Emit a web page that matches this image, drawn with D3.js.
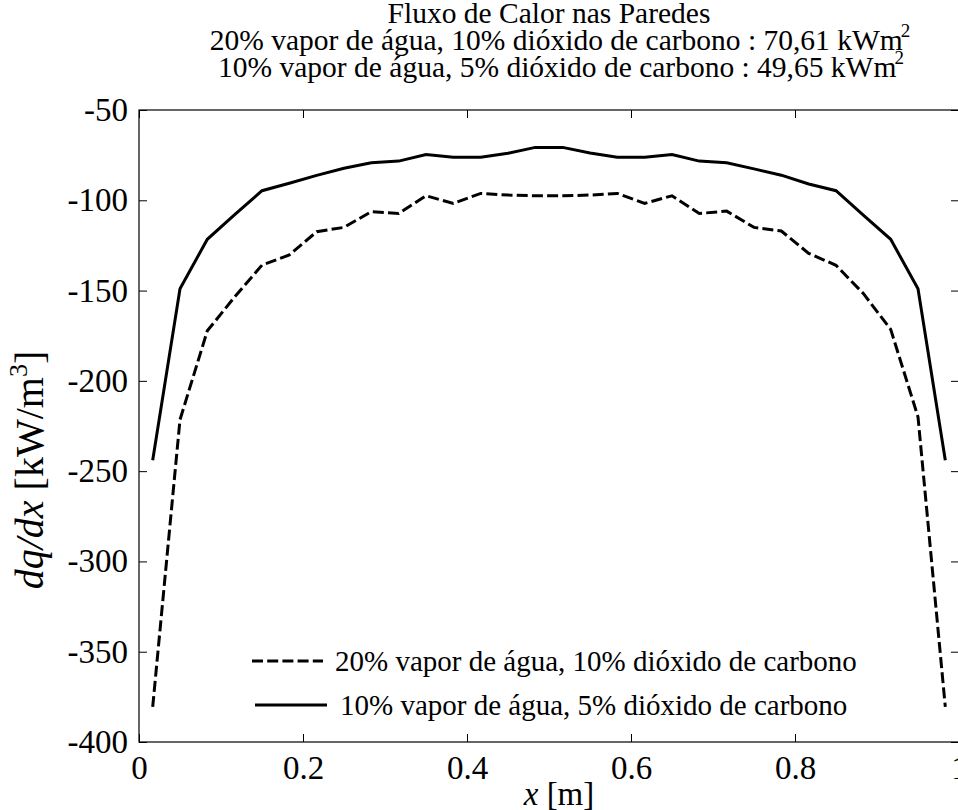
<!DOCTYPE html>
<html>
<head>
<meta charset="utf-8">
<script src="https://cdn.jsdelivr.net/npm/d3@7"></script>
<style>
  html, body { margin: 0; padding: 0; background: #fff; }
  svg text { font-family: "Liberation Serif", "Times New Roman", serif; fill: #000; }
</style>
</head>
<body>
<svg id="chart" width="958" height="810"></svg>
<script>
// ---- data ----
const xValues = [0.0167, 0.05, 0.0833, 0.1167, 0.15, 0.1833, 0.2167, 0.25, 0.2833, 0.3167,
                 0.35, 0.3833, 0.4167, 0.45, 0.4833, 0.5167, 0.55, 0.5833, 0.6167, 0.65,
                 0.6833, 0.7167, 0.75, 0.7833, 0.8167, 0.85, 0.8833, 0.9167, 0.95, 0.9833];
const series20 = [-380.6, -221.5, -172.3, -153.5, -135.9, -130.3, -117.4, -115, -106.3, -107.3,
                  -97.5, -101.7, -96.2, -97.1, -97.5, -97.5, -97.1, -96.2, -101.7, -97.5,
                  -107.3, -106, -115, -117, -129.4, -136, -151.6, -171.5, -220, -380.6];
const series10 = [-244, -149, -121.6, -108, -94.7, -90.6, -86.2, -82.3, -79.2, -78.3,
                  -74.6, -76.2, -76.2, -74, -70.7, -70.7, -73.8, -76.2, -76.2, -74.6,
                  -78.3, -79.2, -82.6, -86.1, -91, -94.7, -108.2, -121.6, -149, -244];
const xTicks = [0, 0.2, 0.4, 0.6, 0.8, 1];
const xTickLabels = ["0", "0.2", "0.4", "0.6", "0.8", "1"];
const yTicks = [-400, -350, -300, -250, -200, -150, -100, -50];
const legendLabels = ["20% vapor de água, 10% dióxido de carbono", "10% vapor de água, 5% dióxido de carbono"];
const titleLines = ["Fluxo de Calor nas Paredes",
                    "20% vapor de água, 10% dióxido de carbono : 70,61 kWm",
                    "10% vapor de água, 5% dióxido de carbono : 49,65 kWm"];

// ---- layout ----
const FONT = '"Liberation Serif", "Times New Roman", serif';
const svg = d3.select("#chart");
const L = 139, T = 110, R = 959, B = 742;
const x = d3.scaleLinear().domain([0, 1]).range([L, R]);
const y = d3.scaleLinear().domain([-400, -50]).range([B, T]);
const FS = 33;

// box
svg.append("rect").attr("x", L).attr("y", T).attr("width", R - L).attr("height", B - T)
  .attr("fill", "none").attr("stroke", "#000").attr("stroke-width", 1.2);

// axes
const gx = svg.append("g").attr("transform", `translate(0,${B})`)
  .call(d3.axisBottom(x).tickValues(xTicks).tickFormat((d, i) => xTickLabels[i])
        .tickSizeInner(-8).tickSizeOuter(0).tickPadding(14));
const gy = svg.append("g").attr("transform", `translate(${L},0)`)
  .call(d3.axisLeft(y).tickValues(yTicks).tickFormat(d => String(d))
        .tickSizeInner(-8).tickSizeOuter(0).tickPadding(11));
const gxt = svg.append("g").attr("transform", `translate(0,${T})`)
  .call(d3.axisTop(x).tickValues(xTicks).tickFormat("").tickSizeInner(-8).tickSizeOuter(0));
const gyr = svg.append("g").attr("transform", `translate(${R},0)`)
  .call(d3.axisRight(y).tickValues(yTicks).tickFormat("").tickSizeInner(-8).tickSizeOuter(0));
[gx, gy, gxt, gyr].forEach(g => {
  g.attr("font-family", FONT);
  g.select(".domain").remove();
  g.selectAll("line").attr("stroke", "#000").attr("stroke-width", 1);
  g.selectAll("text").style("font-size", FS + "px").style("font-family", FONT).attr("fill", "#000");
});
gx.selectAll("text").attr("dy", "0.71em");

// lines
const line = d3.line().x((d, i) => x(xValues[i])).y(d => y(d));
svg.append("path").datum(series20).attr("d", line)
  .attr("fill", "none").attr("stroke", "#000").attr("stroke-width", 3)
  .attr("stroke-dasharray", "11,4.2");
svg.append("path").datum(series10).attr("d", line)
  .attr("fill", "none").attr("stroke", "#000").attr("stroke-width", 3);

// legend
const lg = svg.append("g");
const legendRows = [
  {y: 661, x1: 252, x2: 323, tx: 335, dash: "11,4.2"},
  {y: 705, x1: 255, x2: 327, tx: 340, dash: null}
];
legendRows.forEach((r, i) => {
  lg.append("line").attr("x1", r.x1).attr("x2", r.x2).attr("y1", r.y).attr("y2", r.y)
    .attr("stroke", "#000").attr("stroke-width", 3).attr("stroke-dasharray", r.dash);
  lg.append("text").attr("x", r.tx).attr("y", r.y).attr("dy", "0.33em")
    .style("font-size", "29px").style("font-family", FONT).text(legendLabels[i]);
});

// title
const titleY = [23, 50, 77];
const titleX = [549, 560, 561];
titleLines.forEach((t, i) => {
  const tx = svg.append("text").attr("x", titleX[i]).attr("y", titleY[i])
    .attr("text-anchor", "middle").style("font-size", "29.5px").style("font-family", FONT);
  tx.append("tspan").text(t);
  if (i > 0) tx.append("tspan").attr("dy", -13).attr("dx", -2).style("font-size", "19px").text("2");
});

// x label
const xl = svg.append("text").attr("x", 559).attr("y", 805).attr("text-anchor", "middle")
  .style("font-size", FS + "px").style("font-family", FONT);
xl.append("tspan").style("font-style", "italic").text("x");
xl.append("tspan").text(" [m]");

// y label
const yl = svg.append("text").attr("transform", "translate(43,470) rotate(-90)")
  .attr("text-anchor", "middle").style("font-size", "40px").style("font-family", FONT);
yl.append("tspan").style("font-style", "italic").text("dq/dx");
yl.append("tspan").text(" [kW/m");
yl.append("tspan").attr("dy", -16).style("font-size", "26px").text("3");
yl.append("tspan").attr("dy", 16).text("]");
</script>
</body>
</html>
